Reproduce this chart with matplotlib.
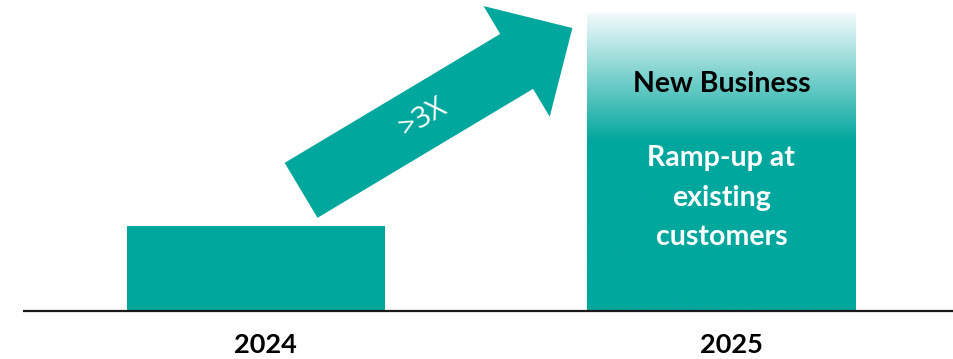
import numpy as np
import matplotlib.pyplot as plt
from matplotlib.patches import Polygon
from matplotlib.transforms import IdentityTransform
from matplotlib.colors import to_rgb

years = ['2024', '2025']
revenue = [1.0, 3.5]          # relative volume, 2024 = 1
bar_widths = [0.555, 0.578]
growth_label = '>3X'
segment_title = 'New Business'
segment_lines = ['Ramp-up at', 'existing', 'customers']

TEAL = '#00A79D'
plt.rcParams['font.family'] = ['Lato', 'DejaVu Sans']

fig = plt.figure(figsize=(9.54, 3.59), dpi=100)
ax = fig.add_axes([0, 0, 1, 1])
ax.axis('off')

x = np.arange(len(years))
bars = ax.bar(x, revenue, width=bar_widths, color=TEAL, zorder=2)

# 2025 bar fades to white towards the top
b = bars[1]
b.set_facecolor('none')
x0, x1 = b.get_x(), b.get_x() + b.get_width()
top = b.get_height()
n = 256
frac = np.linspace(0, 1, n)[:, None]          # 0 = bottom, 1 = top
fade_start = 0.57
t = np.clip((frac - fade_start) / (1 - fade_start), 0, 1)
teal = np.array(to_rgb(TEAL))
white = np.array([0.95, 0.98, 0.99])
rgb = teal * (1 - t[..., None]) + white * t[..., None]
ax.imshow(rgb.reshape(n, 1, 3), extent=[x0, x1, 0, top], origin='lower',
          aspect='auto', interpolation='bilinear', zorder=2)
ax.set_xlim(-0.55, 1.5)
ax.set_ylim(-0.565, 3.66)

# baseline
ax.plot([-0.5, 1.5], [0, 0], color='#1a1a1a', lw=1.6, zorder=3,
        solid_capstyle='butt')

# year labels under the bars
for xi, yr in zip(x, years):
    ax.annotate(yr, (xi, 0), xytext=(7, -24.5), textcoords='offset points',
                ha='center', va='center', fontsize=19.5, fontweight='bold',
                color='black')

# texts inside the 2025 bar
cx = x[1]
ax.annotate(segment_title, (cx, top), xytext=(0, -51), textcoords='offset points',
            ha='center', va='center', fontsize=20.5, fontweight='bold', color='black')
for i, line in enumerate(segment_lines):
    ax.annotate(line, (cx, top), xytext=(0, -104 - i * 28.5),
                textcoords='offset points', ha='center', va='center',
                fontsize=20.5, fontweight='bold', color='white')

# growth arrow from the 2024 bar up to the 2025 bar (drawn in pixels)
fig.canvas.draw()
tail = ax.transData.transform((x[0] + 0.097, revenue[0] + 0.42))
tip = ax.transData.transform((x[1] - 0.32, revenue[1] - 0.17))
d = tip - tail
L = np.hypot(*d)
u = d / L
nv = np.array([-u[1], u[0]])
shaft_hw, head_hw, head_len = 32, 64.5, 65
base = tip - u * head_len
pts = [tail + nv * shaft_hw, base + nv * shaft_hw, base + nv * head_hw, tip,
       base - nv * head_hw, base - nv * shaft_hw, tail - nv * shaft_hw]
ax.add_patch(Polygon(pts, closed=True, facecolor=TEAL, edgecolor='none',
                     transform=IdentityTransform(), zorder=4))
angle = np.degrees(np.arctan2(u[1], u[0]))
mid = tail + u * L * 0.45
ax.text(mid[0], mid[1], growth_label, transform=IdentityTransform(),
        rotation=angle, rotation_mode='anchor', ha='center', va='center',
        fontsize=21, family=['Open Sans', 'DejaVu Sans'], color='white', zorder=5)

fig.savefig('out.png', dpi=100)
